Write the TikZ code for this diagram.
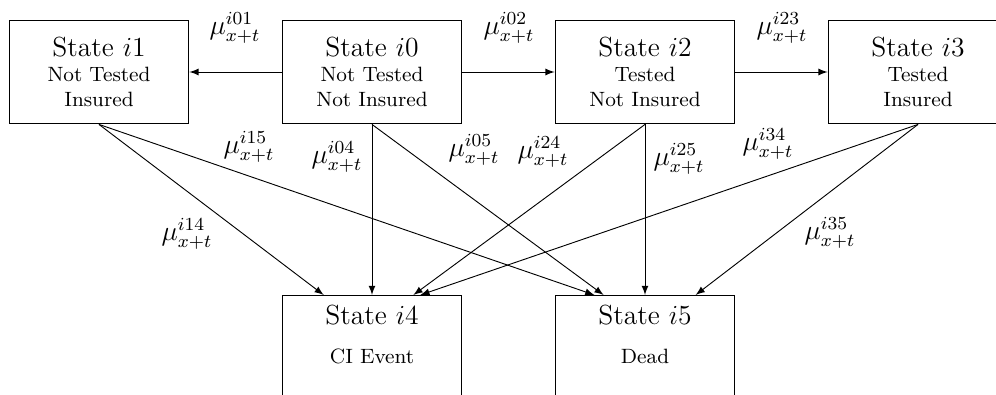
\documentclass[tikz,border=0pt]{standalone}
\usepackage{amssymb}
\usepackage{tikz}
\usetikzlibrary{arrows}

\begin{document}
\begin{tikzpicture}[x=0.4348pt, y=-0.4348pt]
			\tikzstyle{State}	= [rectangle, draw, semithick, align=center, font=\small, minimum width=78pt, minimum height=45pt, inner sep=2pt]
			\tikzstyle{Absorb}	= [State, anchor=north, text depth=46pt, inner ysep=4pt]
			\tikzstyle{Rate}	= [font=\large, inner sep=0pt]
			\tikzstyle{Move}	= [-latex]
			
			\useasboundingbox (0,0) rectangle (996,395);
			
			\foreach \n/\x/\txt in {1/99/{Not Tested\\Insured}, 0/372/{Not Tested\\Not Insured}, 2/645/{Tested\\Not Insured}, 3/918/{Tested\\Insured}}
				\node (i\n) at (\x, 72) [State] {{\large State $i\n$}\\\txt};
			\node (i4) at (372, 295) [Absorb] {{\large State $i4$}\\[6pt]CI Event};
			\node (i5) at (645, 295) [Absorb] {{\large State $i5$}\\[6pt]Dead};
			
			\foreach \a/\b in {0/1, 0/2, 2/3}
				\draw (i\a) to (i\b) [Move];
			\foreach \a/\b/\s in {1/4/-21pt, 0/4/0pt, 2/4/18pt, 3/4/21pt, 1/5/-22pt, 0/5/-18pt, 2/5/0pt, 3/5/22pt}
				\draw (i\a.south) to ([xshift=\s]i\b.north) [Move];
			
			\foreach \lab/\x/\y in {01/235/28, 02/509/28, 23/782/28, 15/249/147, 04/337/157, 05/474/150, 24/543/152, 25/679/159, 34/768/144, 14/187/234, 35/830/233}
				\node (m\lab) at (\x, \y) [Rate] {$\mu^{i\lab}_{x+t}$};
		\end{tikzpicture}
\end{document}
